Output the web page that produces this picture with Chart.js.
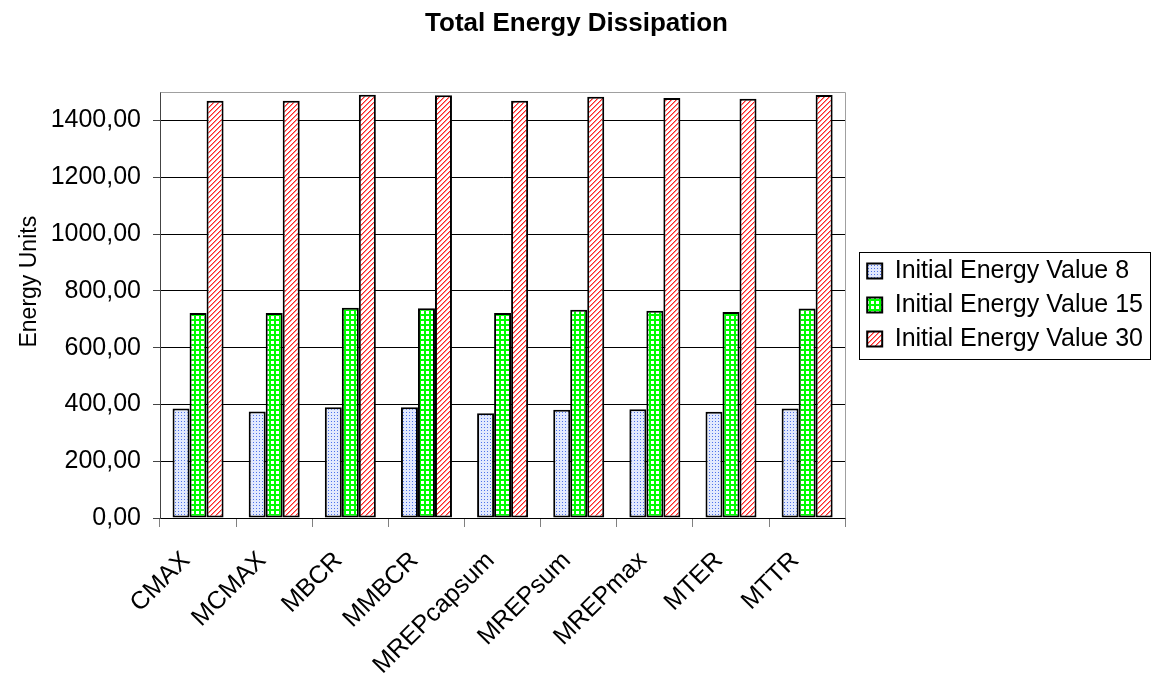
<!DOCTYPE html>
<html>
<head>
<meta charset="utf-8">
<script src="https://cdn.jsdelivr.net/npm/chart.js@4.4.1/dist/chart.umd.min.js"></script>
<style>
  html, body { margin: 0; padding: 0; background: #fff; }
  #wrap { width: 1161px; height: 676px; }
</style>
</head>
<body>
<div id="wrap"><canvas id="c" width="1161" height="676"></canvas></div>
<script>
const categories = ['CMAX', 'MCMAX', 'MBCR', 'MMBCR', 'MREPcapsum', 'MREPsum', 'MREPmax', 'MTER', 'MTTR'];
const energy8  = [386, 375, 390, 390, 369, 381, 383, 374, 386];
const energy15 = [722, 722, 741, 739, 722, 734, 730, 726, 738];
const energy30 = [1470, 1470, 1491, 1489, 1470, 1484, 1480, 1477, 1490];
const seriesLabels = ['Initial Energy Value 8', 'Initial Energy Value 15', 'Initial Energy Value 30'];
const yTicks = [0, 200, 400, 600, 800, 1000, 1200, 1400];
const yMax = 1500;
const yAxisTitle = 'Energy Units';
const chartTitle = 'Total Energy Dissipation';

function makePattern(size, painter) {
  const c = document.createElement('canvas');
  c.width = size; c.height = size;
  const g = c.getContext('2d');
  painter(g, size);
  return document.getElementById('c').getContext('2d').createPattern(c, 'repeat');
}
const bluePattern = makePattern(3, (g, s) => {
  g.fillStyle = '#e2e9fd'; g.fillRect(0, 0, s, s);
  g.fillStyle = '#4f73ea'; g.fillRect(1, 1, 1, 1);
});
const greenPattern = makePattern(5, (g, s) => {
  g.fillStyle = '#00ff00'; g.fillRect(0, 0, s, s);
  g.fillStyle = '#ffffff'; g.fillRect(1, 1, 3, 3);
});
const redPattern = makePattern(5, (g, s) => {
  for (let x = 0; x < s; x++) for (let y = 0; y < s; y++) {
    const m = (x + y) % 5;
    g.fillStyle = m === 0 ? '#ff2424' : (m === 1 ? '#ff8c8c' : '#ffffff');
    g.fillRect(x, y, 1, 1);
  }
});

const FONT = '"Liberation Sans", Arial, sans-serif';
Chart.defaults.color = '#000';
Chart.defaults.font.family = FONT;

const framePlugin = {
  id: 'frame',
  afterDraw(chart) {
    const { ctx, chartArea: a } = chart;
    ctx.save();
    ctx.strokeStyle = '#a0a0a0';
    ctx.lineWidth = 1;
    ctx.beginPath();
    ctx.moveTo(Math.round(a.left) + 0.5, Math.round(a.top) + 0.5);
    ctx.lineTo(Math.round(a.right) + 0.5, Math.round(a.top) + 0.5);
    ctx.lineTo(Math.round(a.right) + 0.5, Math.round(a.bottom) + 0.5);
    ctx.stroke();
    const hb = chart.legend && chart.legend.legendHitBoxes;
    if (hb && hb.length) {
      let l = Infinity, t = Infinity, r = -Infinity, b = -Infinity;
      hb.forEach(h => {
        l = Math.min(l, h.left); t = Math.min(t, h.top);
        r = Math.max(r, h.left + h.width); b = Math.max(b, h.top + h.height);
      });
      ctx.strokeStyle = '#000';
      ctx.strokeRect(Math.round(l - 8) + 0.5, Math.round(t - 7) + 0.5, Math.round(r - l + 15), Math.round(b - t + 14));
    }
    // y axis title (placed like the original, slightly above the axis centre)
    const yScale = chart.scales.y;
    ctx.fillStyle = '#000';
    ctx.font = '23px ' + FONT;
    ctx.textAlign = 'center';
    ctx.textBaseline = 'middle';
    ctx.translate(30, yScale.getPixelForValue(yMax * 0.555));
    ctx.rotate(-Math.PI / 2);
    ctx.fillText(yAxisTitle, 0, 0);
    ctx.restore();
  }
};

const yTickText = v => v.toFixed(2).replace('.', ',');

new Chart(document.getElementById('c'), {
  type: 'bar',
  data: {
    labels: categories,
    datasets: [
      { label: seriesLabels[0], data: energy8, backgroundColor: bluePattern },
      { label: seriesLabels[1], data: energy15, backgroundColor: greenPattern },
      { label: seriesLabels[2], data: energy30, backgroundColor: redPattern }
    ].map(d => Object.assign(d, {
      borderColor: '#000', borderWidth: 2, borderSkipped: false,
      categoryPercentage: 0.67, barPercentage: 1.0
    }))
  },
  options: {
    responsive: false,
    animation: false,
    devicePixelRatio: 1,
    layout: { padding: { left: 0, top: 0, bottom: 0, right: 8 } },
    plugins: {
      title: {
        display: true,
        text: chartTitle,
        font: { family: FONT, size: 26, weight: 'bold' },
        color: '#000',
        padding: { top: 8, bottom: 53 }
      },
      legend: {
        position: 'right',
        align: 'center',
        fullSize: false,
        maxWidth: 330,
        labels: {
          font: { family: FONT, size: 25 },
          color: '#000',
          boxWidth: 15,
          boxHeight: 15,
          padding: 9
        }
      },
      tooltip: { enabled: false }
    },
    scales: {
      x: {
        grid: { display: true, drawOnChartArea: false, offset: true, color: '#808080', tickLength: 9 },
        border: { display: true, color: '#000', width: 1 },
        ticks: { font: { family: FONT, size: 25 }, color: '#000', maxRotation: 45, minRotation: 45, padding: 19, labelOffset: -12, autoSkip: false },
        afterFit: s => { s.height = 158; }
      },
      y: {
        min: 0, max: yMax,
        afterBuildTicks: s => { s.ticks = yTicks.map(v => ({ value: v })); },
        grid: { color: '#000', tickColor: '#444', tickLength: 7, lineWidth: 1 },
        border: { display: true, color: '#444', width: 1 },
        ticks: { font: { family: FONT, size: 25 }, color: '#000', padding: 12, callback: v => yTickText(v) },
        title: { display: false },
        afterFit: s => { s.width = 160; }
      },
      gap: {
        type: 'linear', position: 'right', display: true,
        grid: { display: false }, border: { display: false }, ticks: { display: false },
        afterFit: s => { s.width = 13; }
      }
    }
  },
  plugins: [framePlugin]
});
</script>
</body>
</html>
